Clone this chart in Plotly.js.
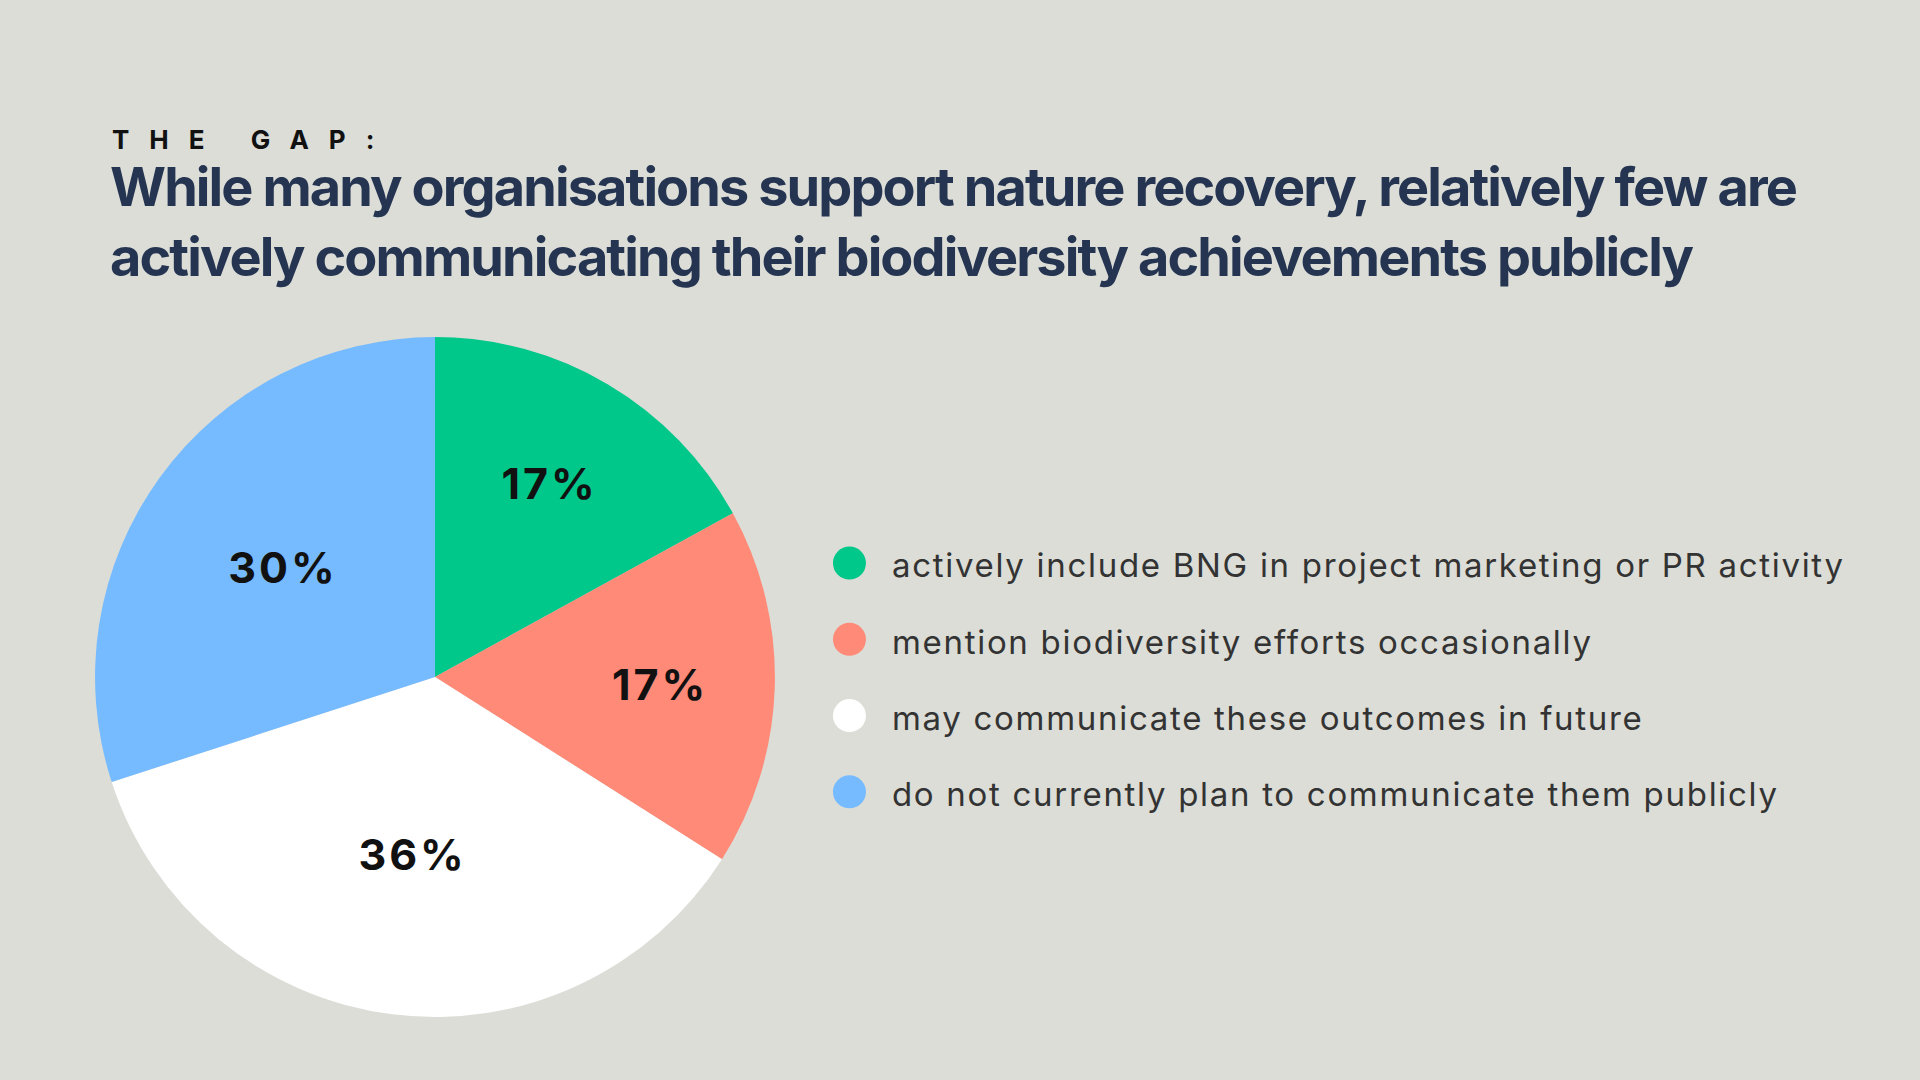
<!DOCTYPE html>
<html>
<head>
<meta charset="utf-8">
<script src="https://cdn.plot.ly/plotly-3.0.1.min.js"></script>
<style>
  html, body { margin: 0; padding: 0; background: #dcddd7; }
  #chart { width: 1920px; height: 1080px; }
</style>
</head>
<body>
<div id="chart"></div>
<script>
// ── Data ──────────────────────────────────────────────────────────────────────
const categories = [
  'actively include BNG in project marketing or PR activity',
  'mention biodiversity efforts occasionally',
  'may communicate these outcomes in future',
  'do not currently plan to communicate them publicly'
];
const shares = [17, 17, 36, 30];   // percent of respondents
const colours = ['#00c78a', '#ff8a77', '#ffffff', '#76bbff'];

const kicker = 'THE GAP:';
const headline = 'While many organisations support nature recovery, relatively few are<br>' +
                 'actively communicating their biodiversity achievements publicly';

// ── Style constants ───────────────────────────────────────────────────────────
const BG = '#dcddd7';
const FONT = 'Inter, "Liberation Sans", sans-serif';
const MARK_X = 0.0707;   // legend dot column (x axis fraction)
const TEXT_X = 0.1076;   // legend text column

// Plotly passes span styles through to the svg tspan, so tracking works here
function spaced(str, px) {
  return '<span style="letter-spacing:' + px + 'px">' + str + '</span>';
}

// ── Traces ────────────────────────────────────────────────────────────────────
const pie = {
  type: 'pie',
  values: shares,
  labels: categories,
  marker: { colors: colours, line: { width: 0 } },
  sort: false,
  direction: 'clockwise',
  rotation: 0,
  texttemplate: spaced('%{value}%', 3),
  textposition: 'inside',
  insidetextorientation: 'horizontal',
  textfont: { family: FONT, size: 43, color: '#111111', weight: 700 },
  domain: { x: [0.0495, 0.4036], y: [0.0583, 0.6880] },
  hoverinfo: 'skip',
  showlegend: false
};

const legendDots = {
  type: 'scatter',
  mode: 'markers',
  x: categories.map(() => MARK_X),
  y: categories,
  marker: { size: 33, color: colours, line: { width: 0 } },
  xaxis: 'x', yaxis: 'y',
  cliponaxis: false,
  hoverinfo: 'skip',
  showlegend: false
};

const legendText = {
  type: 'scatter',
  mode: 'text',
  x: categories.map(() => TEXT_X),
  y: categories,
  text: categories.map(c => spaced(c, 1.7)),
  textposition: 'middle right',
  textfont: { family: FONT, size: 33, color: '#333333' },
  xaxis: 'x', yaxis: 'y2',
  cliponaxis: false,
  hoverinfo: 'skip',
  showlegend: false
};

// ── Layout ────────────────────────────────────────────────────────────────────
const hiddenAxis = {
  showgrid: false, zeroline: false, showline: false,
  showticklabels: false, ticks: '', fixedrange: true
};

const layout = {
  width: 1920,
  height: 1080,
  margin: { l: 0, r: 0, t: 0, b: 0 },
  paper_bgcolor: BG,
  plot_bgcolor: 'rgba(0,0,0,0)',
  font: { family: FONT },
  showlegend: false,
  xaxis: Object.assign({}, hiddenAxis, { domain: [0.4, 1.0], range: [0, 1] }),
  yaxis: Object.assign({}, hiddenAxis, {
    type: 'category', categoryarray: categories, categoryorder: 'array',
    domain: [0.2315, 0.5139], range: [3.5, -0.5], anchor: 'x'
  }),
  // same rows, nudged a few px down so the text sits like the reference
  yaxis2: Object.assign({}, hiddenAxis, {
    type: 'category', categoryarray: categories, categoryorder: 'array',
    domain: [0.2260, 0.5084], range: [3.5, -0.5], anchor: 'x'
  }),
  annotations: [
    {
      text: spaced(kicker.replace(' ', '&nbsp;'), 20),
      xref: 'paper', yref: 'paper', x: 110 / 1920, y: 1 - 122 / 1080,
      xanchor: 'left', yanchor: 'top', showarrow: false,
      font: { family: FONT, size: 26, color: '#111111', weight: 700 }
    },
    {
      text: spaced(headline, -1.9),
      xref: 'paper', yref: 'paper', x: 108 / 1920, y: 1 - 152 / 1080,
      xanchor: 'left', yanchor: 'top', align: 'left', showarrow: false,
      font: { family: FONT, size: 54, color: '#253551', weight: 700 }
    }
  ]
};

Plotly.newPlot('chart', [pie, legendDots, legendText], layout, { displayModeBar: false, staticPlot: true });
</script>
</body>
</html>
